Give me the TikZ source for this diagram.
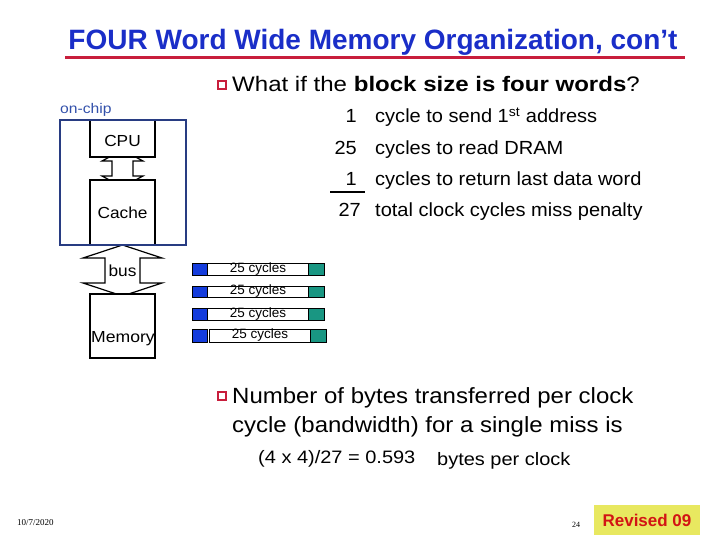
\documentclass[tikz,border=0pt]{standalone}
\usepackage{graphicx}
\usepackage{fontspec}
\setmainfont{Liberation Sans}
\newfontfamily\serifft{Liberation Serif}
\definecolor{titleblue}{RGB}{26,46,200}
\definecolor{rulered}{RGB}{200,30,60}
\definecolor{chipblue}{RGB}{40,60,130}
\definecolor{onchipblue}{RGB}{50,80,170}
\definecolor{barblue}{RGB}{20,60,220}
\definecolor{barteal}{RGB}{25,150,130}
\definecolor{revyellow}{RGB}{232,232,96}
\definecolor{revred}{RGB}{210,20,20}
\newcommand{\hwide}[2]{\scalebox{#1}[1]{#2}}
\tikzset{
  unitbox/.style={draw=black, line width=1.2pt, fill=white},
  dblarrow/.style={draw=black, line width=1.2pt, fill=white, line join=miter},
  bluecell/.style={draw=black, line width=1pt, fill=barblue},
  tealcell/.style={draw=black, line width=1pt, fill=barteal},
  whitecell/.style={draw=black, line width=1pt, fill=white},
  bulletsq/.style={draw=rulered, line width=1.5pt, fill=white, minimum size=8pt, inner sep=0pt},
  rowtext/.style={font=\fontsize{19}{22}\selectfont, anchor=base west, inner sep=0pt},
  rownum/.style={font=\fontsize{19}{22}\selectfont, anchor=base east, inner sep=0pt},
  cyctext/.style={font=\fontsize{13.5}{14}\selectfont, inner sep=0pt},
  boxtext/.style={font=\fontsize{16}{18}\selectfont, inner sep=0pt}
}
\begin{document}
\begin{tikzpicture}[x=1pt,y=-1pt]
\useasboundingbox (0,0) rectangle (720,540);
% title
\node[font=\fontsize{28}{32}\selectfont\bfseries, text=titleblue, anchor=base, inner sep=0pt] (title) at (373,50) {FOUR Word Wide Memory Organization, con’t};
\draw[rulered, line width=3pt] (65,58) -- (685,58);
% first bullet
\node[bulletsq] (b1) at (222,85) {};
\node[font=\fontsize{21}{24}\selectfont, anchor=base west, inner sep=0pt] (q1) at (232,92) {\hwide{1.145}{What if the \textbf{block size is four words}?}};
% on-chip
\node[font=\fontsize{14}{16}\selectfont, text=onchipblue, anchor=base west, inner sep=0pt] (onchip) at (60,114) {\hwide{1.12}{on-chip}};
% arrows
\draw[dblarrow] (122.5,150) -- (143,161) -- (133,161) -- (133,176) -- (143,176) -- (122.5,187) -- (102,176) -- (112,176) -- (112,161) -- (102,161) -- cycle;
\draw[dblarrow] (122.5,245) -- (162,258) -- (140,258) -- (140,283) -- (162,283) -- (122.5,296) -- (83,283) -- (105,283) -- (105,258) -- (83,258) -- cycle;
\node[boxtext] (bus) at (122.5,271) {\hwide{1.08}{bus}};
% boxes
\draw[unitbox] (90,120) rectangle (155,157);
\node[boxtext] (cpu) at (122.5,141) {\hwide{1.08}{CPU}};
\draw[unitbox] (90,180) rectangle (155,245);
\node[boxtext] (cache) at (122.5,213) {\hwide{1.08}{Cache}};
\draw[chipblue, line width=2pt] (60,120) rectangle (186,245);
\draw[unitbox] (90,294) rectangle (155,358);
\node[boxtext] (mem) at (123,339) {\hwide{1.1}{Memory}};
% cycle bars
\foreach \y/\h/\dx [count=\i] in {263/12/0, 286/11/0, 308/12/0, 329/13/2} {
  \draw[bluecell] (192,\y) rectangle (207,\y+\h);
  \draw[whitecell] (207+\dx,\y) rectangle (308+\dx,\y+\h);
  \draw[tealcell] (308+\dx,\y) rectangle (324+\dx,\y+\h);
  \node[cyctext] (cyc\i) at (258+\dx,\y+\h/2) {25 cycles};
}
% cycle counts
\node[rownum] (n1) at (357,123) {\hwide{1.05}{1}};
\node[rowtext] (t1) at (375,123) {\hwide{1.055}{cycle to send 1\textsuperscript{st} address}};
\node[rownum] (n2) at (357,155) {\hwide{1.05}{25}};
\node[rowtext] (t2) at (375,155) {\hwide{1.055}{cycles to read DRAM}};
\node[rownum] (n3) at (357,186) {\hwide{1.05}{1}};
\node[rowtext] (t3) at (375,186) {\hwide{1.055}{cycles to return last data word}};
\draw[black, line width=2.5pt] (330,192) -- (365,192);
\node[rownum] (n4) at (361,217) {\hwide{1.05}{27}};
\node[rowtext] (t4) at (375,217) {\hwide{1.055}{total clock cycles miss penalty}};
% second bullet
\node[bulletsq] (b2) at (222,396) {};
\node[font=\fontsize{22}{25}\selectfont, anchor=base west, inner sep=0pt] (q2a) at (232,403) {\hwide{1.09}{Number of bytes transferred per clock}};
\node[font=\fontsize{22}{25}\selectfont, anchor=base west, inner sep=0pt] (q2b) at (232,432) {\hwide{1.09}{cycle (bandwidth) for a single miss is}};
\node[font=\fontsize{18}{20}\selectfont, anchor=base west, inner sep=0pt] (f1) at (258,463) {\hwide{1.11}{(4 x 4)/27 = 0.593}};
\node[font=\fontsize{18}{20}\selectfont, anchor=base west, inner sep=0pt] (f2) at (437,465) {\hwide{1.11}{bytes per clock}};
% footer
\node[font=\serifft\fontsize{9}{10}\selectfont, anchor=base west, inner sep=0pt] (date) at (17,525) {10/7/2020};
\node[font=\serifft\fontsize{8}{9}\selectfont, anchor=base, inner sep=0pt] (page) at (576,527) {24};
\fill[revyellow] (594,505) rectangle (700,535);
\node[font=\fontsize{17}{19}\selectfont\bfseries, text=revred, inner sep=0pt] (rev) at (647,520) {Revised 09};
\end{tikzpicture}
\end{document}
